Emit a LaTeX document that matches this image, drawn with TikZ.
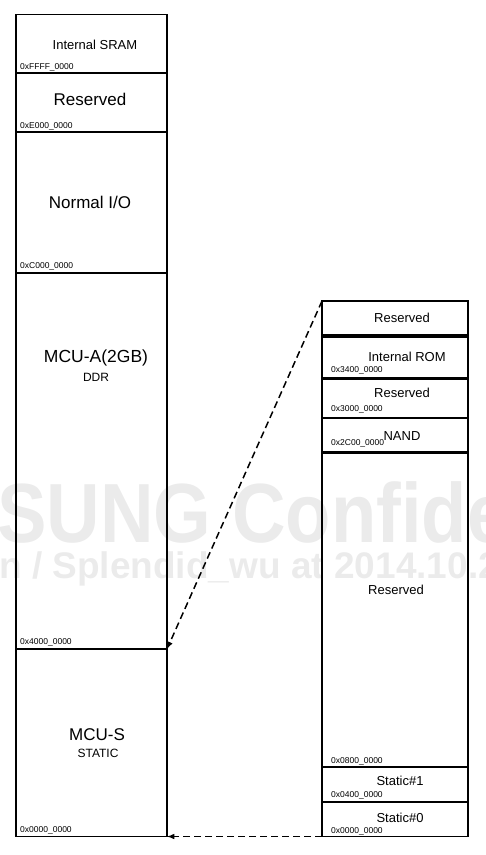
\documentclass[tikz,border=0pt]{standalone}
\usepackage{fontspec}
\setmainfont{Liberation Sans}
\usetikzlibrary{arrows}

\tikzset{
	mbox/.style={draw, line width=1.3pt, inner sep=0pt, outer sep=0pt, anchor=north west},
	addr/.style={anchor=base west, inner sep=0pt, font=\fontsize{8.5}{9}\selectfont},
	lbl/.style={inner sep=0pt, font=\fontsize{13}{14}\selectfont},
	biglbl/.style={inner sep=0pt, font=\fontsize{17}{18}\selectfont},
	sublbl/.style={inner sep=0pt, font=\fontsize{12}{13}\selectfont},
	darrow/.style={line width=1.5pt, dash pattern=on 7pt off 4pt, -latex},
	wmark/.style={color=black!8, inner sep=0pt, anchor=base west}
}

\begin{document}
\begin{tikzpicture}[x=1pt, y=-1pt]
	\useasboundingbox (0,0) rectangle (486,855);
	% watermark
	\begin{scope}
	\clip (0,0) rectangle (486,855);
	\node[wmark, xscale=1.06, yscale=1.2, font=\bfseries\fontsize{70}{72}\selectfont] (wm1) at (-3,542) {SUNG Confide};
	\node[wmark, font=\bfseries\fontsize{37}{40}\selectfont] (wm2) at (-1,578) {n / Splendid\_wu at 2014.10.2};
	\end{scope}
	
	% main memory map
	\node[mbox, minimum width=151pt, minimum height=58.5pt] (sram) at (16,14.5) {};
	\node[mbox, minimum width=151pt, minimum height=59pt] (lres) at (16,73) {};
	\node[mbox, minimum width=151pt, minimum height=141pt] (nio) at (16,132) {};
	\node[mbox, minimum width=151pt, minimum height=376pt] (mcua) at (16,273) {};
	\node[mbox, minimum width=151pt, minimum height=187.5pt] (mcus) at (16,649) {};
	
	\node[lbl] (sramtxt) at (95,45) {Internal SRAM};
	\node[biglbl] (lrestxt) at (90,99) {Reserved};
	\node[biglbl] (niotxt) at (90,202) {Normal I/O};
	\node[biglbl, font=\fontsize{17.5}{18}\selectfont] (mcuatxt) at (96,358) {MCU-A(2GB)};
	\node[sublbl] (ddrtxt) at (96,377) {DDR};
	\node[biglbl] (mcustxt) at (97,735) {MCU-S};
	\node[sublbl] (stattxt) at (98,753) {STATIC};
	
	\node[addr] (a1) at (20,69) {0xFFFF\_0000};
	\node[addr] (a2) at (20,128) {0xE000\_0000};
	\node[addr] (a3) at (20,268) {0xC000\_0000};
	\node[addr] (a4) at (20,644) {0x4000\_0000};
	\node[addr] (a5) at (20,832) {0x0000\_0000};
	
	% static area
	\node[mbox, minimum width=146pt, minimum height=34pt] (rres) at (322,301) {};
	\node[mbox, minimum width=146pt, minimum height=41pt] (rom) at (322,337) {};
	\node[mbox, minimum width=146pt, minimum height=39pt] (rres2) at (322,379) {};
	\node[mbox, minimum width=146pt, minimum height=34pt] (nand) at (322,418) {};
	\node[mbox, minimum width=146pt, minimum height=314pt] (bigres) at (322,453) {};
	\node[mbox, minimum width=146pt, minimum height=35pt] (st1) at (322,767) {};
	\node[mbox, minimum width=146pt, minimum height=34.5pt] (st0) at (322,802) {};
	
	\node[lbl] (rrestxt) at (402,318) {Reserved};
	\node[lbl] (romtxt) at (407,357) {Internal ROM};
	\node[lbl] (rres2txt) at (402,393) {Reserved};
	\node[lbl] (nandtxt) at (402,436) {NAND};
	\node[lbl] (bigrestxt) at (396,590) {Reserved};
	\node[lbl] (st1txt) at (400,781) {Static\#1};
	\node[lbl] (st0txt) at (400,818) {Static\#0};
	
	\node[addr] (b1) at (331,372) {0x3400\_0000};
	\node[addr] (b2) at (331,411) {0x3000\_0000};
	\node[addr] (b3) at (331,445) {0x2C00\_0000};
	\node[addr] (b4) at (331,763) {0x0800\_0000};
	\node[addr] (b5) at (331,797) {0x0400\_0000};
	\node[addr] (b6) at (331,833) {0x0000\_0000};
	
	\draw[darrow] (rres.north west) -- (mcua.south east);
	\draw[darrow] (st0.south west) -- (mcus.south east);
\end{tikzpicture}
\end{document}
